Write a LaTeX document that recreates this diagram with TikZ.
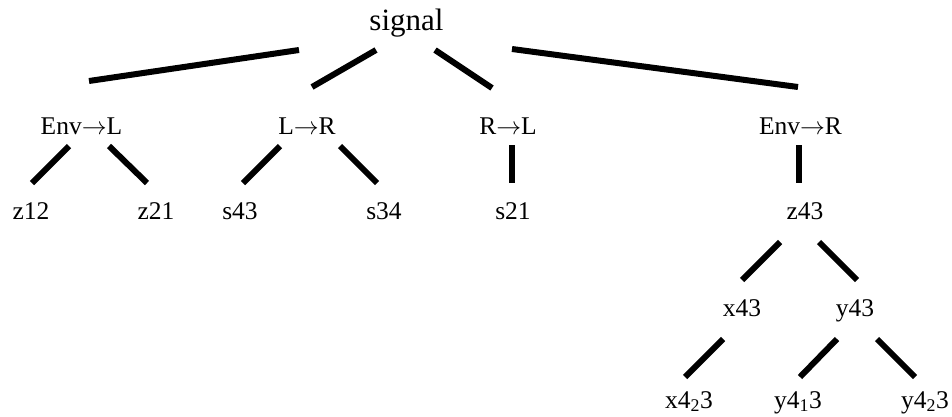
\documentclass[tikz,border=0pt]{standalone}
\usepackage{fontspec}
\setmainfont{Liberation Serif}
\usetikzlibrary{calc}

\begin{document}
\begin{tikzpicture}[x=1pt, y=-1pt,
    lbl/.style={anchor=base, inner sep=0pt, font=\fontsize{25.5}{30}\selectfont},
    branch/.style={line width=6pt}]
        \useasboundingbox (0,0) rectangle (952,416);
        \node[anchor=base, inner sep=0pt, font=\fontsize{31}{36}\selectfont] (signal) at (406.5,30) {signal};
        \node[lbl] (envL) at (81.5,134) {Env$\to$L};
        \node[lbl] (LR) at (307,134) {L$\to$R};
        \node[lbl] (RL) at (508,134) {R$\to$L};
        \node[lbl] (envR) at (800.5,134) {Env$\to$R};
        \node[lbl] (z12) at (31,219) {z12};
        \node[lbl] (z21) at (156,219) {z21};
        \node[lbl] (s43) at (240,219) {s43};
        \node[lbl] (s34) at (384,219) {s34};
        \node[lbl] (s21) at (513,219) {s21};
        \node[lbl] (z43) at (805,219) {z43};
        \node[lbl] (x43) at (742,316) {x43};
        \node[lbl] (y43) at (855,316) {y43};
        \node[lbl] (x423) at (689,408) {x4\textsubscript{2}3};
        \node[lbl] (y413) at (798,408) {y4\textsubscript{1}3};
        \node[lbl] (y423) at (925,408) {y4\textsubscript{2}3};
        \draw[branch] ($(signal.base)+(-107.5,20)$) -- ($(envL.base)+(7.5,-53)$);
        \draw[branch] ($(signal.base)+(-30.5,20)$) -- ($(LR.base)+(5,-47)$);
        \draw[branch] ($(signal.base)+(28.5,20)$) -- ($(RL.base)+(-16,-46)$);
        \draw[branch] ($(signal.base)+(105.5,19)$) -- ($(envR.base)+(-2.5,-47)$);
        \draw[branch] ($(envL.base)+(-12.5,12)$) -- ($(z12.base)+(1,-36)$);
        \draw[branch] ($(envL.base)+(27.5,12)$) -- ($(z21.base)+(-9,-36)$);
        \draw[branch] ($(LR.base)+(-27,12)$) -- ($(s43.base)+(3,-36)$);
        \draw[branch] ($(LR.base)+(33,12)$) -- ($(s34.base)+(-7,-36)$);
        \draw[branch] ($(RL.base)+(4,11)$) -- ($(s21.base)+(-1,-36)$);
        \draw[branch] ($(envR.base)+(-1.5,11)$) -- ($(z43.base)+(-6,-36)$);
        \draw[branch] ($(z43.base)+(-25,23)$) -- ($(x43.base)+(0,-36)$);
        \draw[branch] ($(z43.base)+(14,23)$) -- ($(y43.base)+(2,-36)$);
        \draw[branch] ($(x43.base)+(-19,23)$) -- ($(x423.base)+(-4,-31)$);
        \draw[branch] ($(y43.base)+(-18,23)$) -- ($(y413.base)+(2,-31)$);
        \draw[branch] ($(y43.base)+(22,23)$) -- ($(y423.base)+(-10,-31)$);
      \end{tikzpicture}
\end{document}
